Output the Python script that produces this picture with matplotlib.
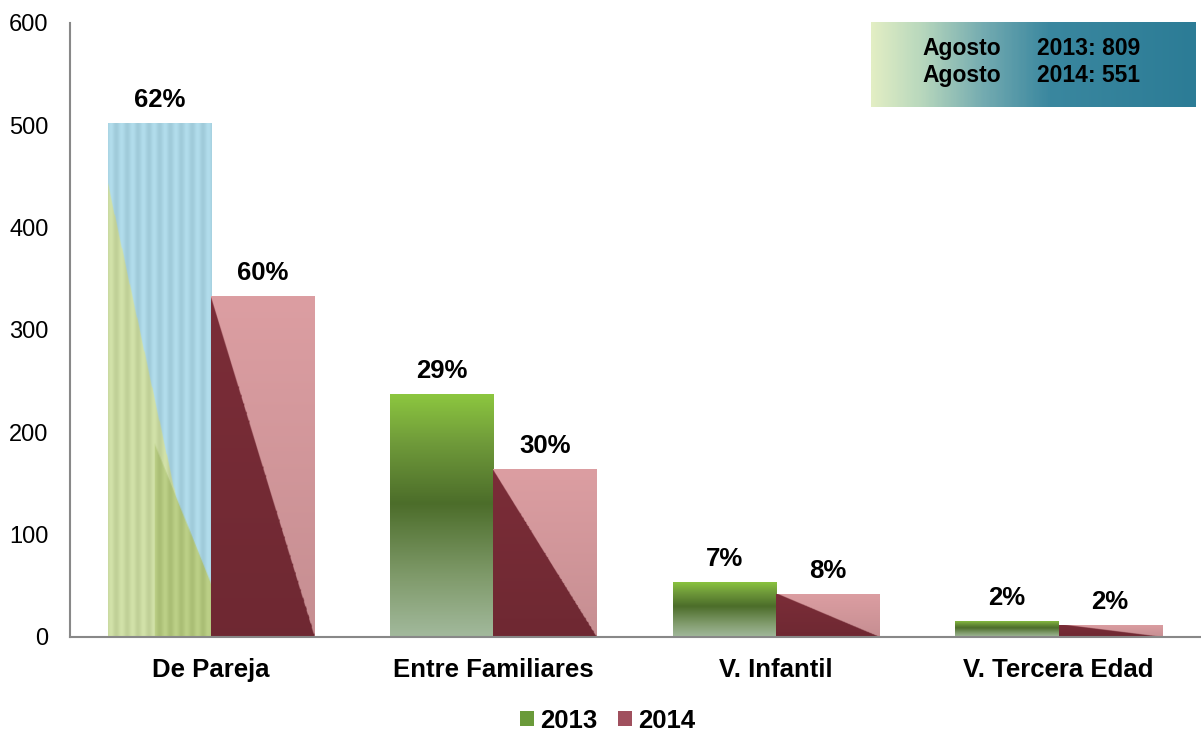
import numpy as np
import matplotlib
matplotlib.use("Agg")
import matplotlib.pyplot as plt
from matplotlib.colors import LinearSegmentedColormap, to_rgb
from matplotlib.patches import Patch

categories = ["De Pareja", "Entre Familiares", "V. Infantil", "V. Tercera Edad"]
series_names = ["2013", "2014"]
values_2013 = [502, 237, 54, 16]
values_2014 = [333, 164, 42, 12]
pct_2013 = ["62%", "29%", "7%", "2%"]
pct_2014 = ["60%", "30%", "8%", "2%"]
yticks = [0, 100, 200, 300, 400, 500, 600]
box_lines = [("Agosto", "2013: 809"), ("Agosto", "2014: 551")]

plt.rcParams['font.family'] = ['Liberation Sans', 'DejaVu Sans']

fig = plt.figure(figsize=(12.01, 7.34), dpi=100)
ax = fig.add_axes([0.0579, 0.1322, 0.9411, 0.837])

x = np.arange(len(categories))
w = 0.365
b13 = ax.bar(x - w / 2, values_2013, w, color='none', edgecolor='none', zorder=2)
b14 = ax.bar(x + w / 2, values_2014, w, color='none', edgecolor='none', zorder=2)

N = 200
u = np.linspace(0, 1, N)
U, V = np.meshgrid(u, u)  # V: 0 bottom -> 1 top (origin lower)


def vgrad(stops):
    cmap = LinearSegmentedColormap.from_list("g", stops)
    return cmap(V)


def diag_img(dark, light):
    d = np.array(to_rgb(dark))
    l = np.array(to_rgb(light))
    mask = (V < 1 - U)[..., None]
    img = np.where(mask, d, l)
    shade = 0.9 + 0.1 * V[..., None]
    return np.clip(img * shade, 0, 1)


def pareja_img():
    blue = np.array(to_rgb("#a9d4e3"))
    green = np.array(to_rgb("#c9d9a0"))
    dgreen = np.array(to_rgb("#b3c77e"))
    mask = (V < 0.88 - 0.93 * U)[..., None]
    mask2 = ((V < 0.6 - 0.5 * U) & (U > 0.45))[..., None]
    img = np.where(mask, green, blue)
    img = np.where(mask2, dgreen, img)
    streak = 0.035 * np.sin(U * 60)[..., None]
    return np.clip(img + streak, 0, 1)


green_stops = [(0.0, "#a2b99c"), (0.25, "#7f9a6a"), (0.55, "#4c6d2a"), (0.8, "#6f9a3a"), (1.0, "#8cc63f")]

for i, p in enumerate(b13.patches):
    x0, y0, ww, hh = p.get_x(), p.get_y(), p.get_width(), p.get_height()
    img = pareja_img() if i == 0 else vgrad(green_stops)
    im = ax.imshow(img, extent=(x0, x0 + ww, y0, y0 + hh), origin='lower',
                   aspect='auto', zorder=1, interpolation='bilinear')
    im.set_clip_path(p)

for i, p in enumerate(b14.patches):
    x0, y0, ww, hh = p.get_x(), p.get_y(), p.get_width(), p.get_height()
    img = diag_img("#7b2d38", "#dc9ea2")
    im = ax.imshow(img, extent=(x0, x0 + ww, y0, y0 + hh), origin='lower',
                   aspect='auto', zorder=1, interpolation='bilinear')
    im.set_clip_path(p)

for bars, labels in ((b13, pct_2013), (b14, pct_2014)):
    for p, lab in zip(bars.patches, labels):
        ax.annotate(lab, (p.get_x() + p.get_width() / 2, p.get_height()),
                    xytext=(0, 11.5), textcoords='offset points',
                    ha='center', va='baseline', fontsize=18.5, fontweight='bold')

ax.set_xlim(-0.5, len(categories) - 0.5)
ax.set_ylim(0, 600)
ax.set_yticks(yticks)
ax.set_xticks(x)
ax.set_xticklabels(categories, fontsize=18.5, fontweight='bold')
ax.tick_params(axis='y', length=0, pad=15, labelsize=17)
ax.tick_params(axis='x', length=0, pad=15)
for s in ('top', 'right'):
    ax.spines[s].set_visible(False)
for s in ('left', 'bottom'):
    ax.spines[s].set_color('#888888')
    ax.spines[s].set_linewidth(1.5)
ax.set_facecolor('none')

handles = [Patch(facecolor="#6a9a3a", edgecolor='none'),
           Patch(facecolor="#a0505e", edgecolor='none')]
fig.legend(handles, series_names, loc='center', bbox_to_anchor=(0.506, 0.018),
           ncol=2, frameon=False, prop={'size': 18.5, 'weight': 'bold'},
           handlelength=0.55, handleheight=0.55, handletextpad=0.25,
           columnspacing=0.8)

# info box
bax = fig.add_axes([0.7252, 0.8542, 0.2698, 0.1158])
bcmap = LinearSegmentedColormap.from_list(
    "b", [(0.0, "#e2eec4"), (0.15, "#b9d8bd"), (0.35, "#72aab0"), (0.55, "#3a879f"), (1.0, "#2c7c96")])
bimg = bcmap(np.tile(np.linspace(0, 1, 300), (20, 1)))
bax.imshow(bimg, aspect='auto', extent=(0, 1, 0, 1), interpolation='bilinear')
bax.set_axis_off()
for (a, b), yy in zip(box_lines, (0.9346, 0.8978)):
    fig.text(0.7677, yy, a, fontsize=16.5, fontweight='bold', va='center', ha='left')
    fig.text(0.8634, yy, b, fontsize=16.5, fontweight='bold', va='center', ha='left')

fig.savefig("out.png", dpi=100)
